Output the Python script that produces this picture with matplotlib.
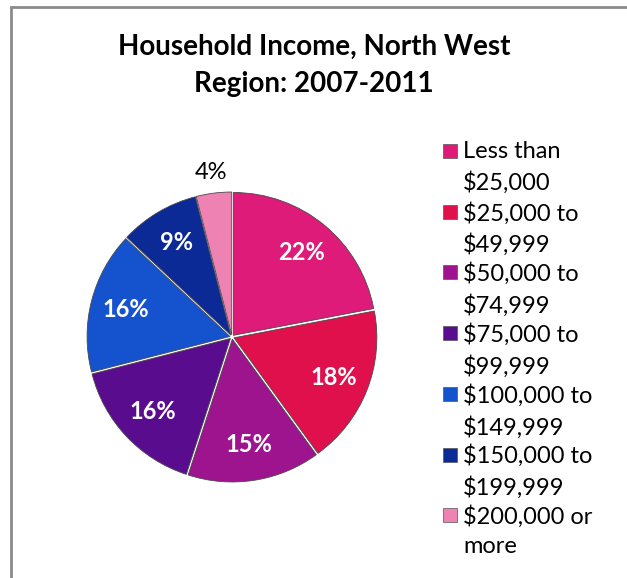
import numpy as np
import matplotlib
matplotlib.use("Agg")
import matplotlib.pyplot as plt
from matplotlib.patches import Rectangle

# household income shares (percent), North West Region 2007-2011
categories = ["Less than\n\\$25,000", "\\$25,000 to\n\\$49,999", "\\$50,000 to\n\\$74,999",
              "\\$75,000 to\n\\$99,999", "\\$100,000 to\n\\$149,999", "\\$150,000 to\n\\$199,999",
              "\\$200,000 or\nmore"]
shares = [22, 18, 15, 16, 16, 9, 4]
colors = ["#DE1B78", "#E0104C", "#9E148E", "#5A0C8E", "#1552CE", "#0C2A96", "#EE82B2"]

plt.rcParams['font.family'] = ['Lato', 'DejaVu Sans']

W, H = 627, 578
fig = plt.figure(figsize=(W / 100, H / 100), dpi=100)

# grey chart frame, cut off at right and bottom like the source
fig.patches.append(Rectangle((11 / W, -0.05), 1.2, 1 - 7 / H + 0.05, transform=fig.transFigure,
                             fill=False, edgecolor="#8a8a8a", linewidth=2))

fig.text(314 / W, 1 - 47 / H, "Household Income, North West", ha="center", va="center",
         fontsize=20, fontweight="bold")
fig.text(314 / W, 1 - 84 / H, "Region: 2007-2011", ha="center", va="center",
         fontsize=20, fontweight="bold")

# pie axes: square, centred at (232, 337) px
side = 300
ax = fig.add_axes([(232 - side / 2) / W, (H - 337 - side / 2) / H, side / W, side / H])
wedges, texts, autotexts = ax.pie(shares, colors=colors, startangle=90, counterclock=False,
                                  autopct="%1.0f%%", pctdistance=0.75,
                                  explode=[0.015] * len(shares),
                                  wedgeprops=dict(edgecolor="#4a4a4a", linewidth=0.6),
                                  textprops=dict(color="white", fontsize=17, fontweight="bold"))
ax.set_xlim(-1.05, 1.05)
ax.set_ylim(-1.05, 1.05)
ax.set_aspect("equal")
ax.axis("off")

# small slice gets its label outside, in black
w = wedges[-1]
mid = np.deg2rad((w.theta1 + w.theta2) / 2)
autotexts[-1].set_position((1.16 * np.cos(mid), 1.16 * np.sin(mid)))
autotexts[-1].set_color("black")
autotexts[-1].set_fontweight("normal")

# legend, drawn as colour squares plus wrapped labels
for i, (lab, c) in enumerate(zip(categories, colors)):
    ytop = 141 + i * 60.7
    fig.patches.append(Rectangle((443 / W, 1 - (ytop + 17) / H), 14 / W, 14 / H,
                                 transform=fig.transFigure, facecolor=c,
                                 edgecolor="#555555", linewidth=0.5))
    fig.text(463 / W, 1 - ytop / H, lab, ha="left", va="top", fontsize=17,
             linespacing=1.5)

fig.savefig("out.png", dpi=100)
